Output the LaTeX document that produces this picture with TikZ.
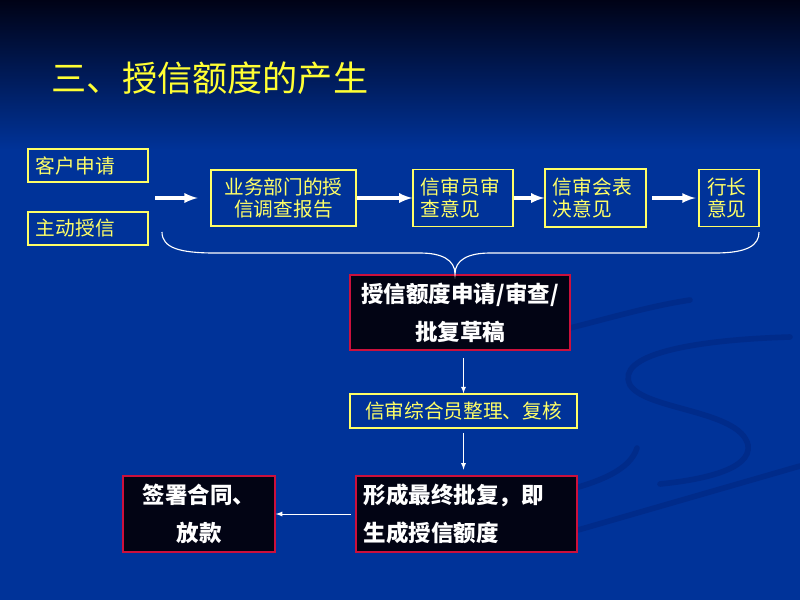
\documentclass[tikz,border=0pt]{standalone}
\usepackage{fontspec}
\usepackage{xcolor}
\usepackage{tikz}
\usetikzlibrary{arrows}
\usetikzlibrary{calc}
\setmainfont{Noto Sans CJK SC}
\definecolor{bg}{RGB}{0,51,153}
\definecolor{bgtop}{RGB}{0,2,22}
\definecolor{sw}{RGB}{0,43,138}
\definecolor{ylw}{RGB}{255,255,102}
\definecolor{ttl}{RGB}{255,255,51}
\definecolor{rd}{RGB}{204,16,60}
\definecolor{blk}{RGB}{2,4,20}
\tikzstyle{ybox} = [rectangle, draw=ylw, line width=0.9pt, text=ylw, inner xsep=0.2cm, inner ysep=0pt, font=\fontsize{14}{15.6}\selectfont]
\tikzstyle{kbox} = [rectangle, draw=rd, line width=1.1pt, fill=blk, text=white, inner xsep=0.2cm, inner ysep=0pt, font=\fontsize{16}{27}\selectfont\bfseries]
\tikzstyle{bigarr} = [draw=white, line width=2.2pt, -latex]
\tikzstyle{arr} = [draw=white, line width=0.6pt, -latex]
\tikzstyle{swoosh} = [draw=sw, line width=0.14cm, line cap=round]

\begin{document}
\begin{tikzpicture}[x=0.025cm,y=-0.025cm]
	% background
		\useasboundingbox (0,0) rectangle (800,600);
		\fill[bg] (0,0) rectangle (800,600);
		\shade[top color=bgtop, bottom color=bg] (0,0) rectangle (800,150);
		\draw[swoosh] (562,330) .. controls (610,318) and (650,306) .. (690,300);
		\draw[swoosh] (790,337) .. controls (690,340) and (615,355) .. (630,385) .. controls (645,410) and (740,410) .. (748,445) .. controls (752,470) and (700,480) .. (660,484);
		\draw[swoosh] (637,448) .. controls (630,470) and (600,482) .. (560,492);
		\draw[swoosh] (578,530) -- (800,466);
	% title
		\node[text=ttl, font=\fontsize{25}{30}\selectfont] (t) at (210,78) {三、授信额度的产生};
	% boxes
		\node[ybox, text width=2.6cm, minimum height=0.825cm, align=left] (a1) at (88,165.5) {客户申请};
		\node[ybox, text width=2.6cm, minimum height=0.825cm, align=left] (a2) at (88,228.5) {主动授信};
		\node[ybox, text width=3.225cm, minimum height=1.4cm, align=center] (a3) at (283.5,198) {业务部门的授\\信调查报告};
		\node[ybox, text width=2.1cm, minimum height=1.425cm, align=left] (a4) at (463,198) {信审员审\\查意见};
		\node[ybox, text width=2.125cm, minimum height=1.45cm, align=left] (a5) at (595.5,198) {信审会表\\决意见};
		\node[ybox, text width=1.1cm, minimum height=1.425cm, align=left] (a6) at (729,198) {行长\\意见};
		\node[kbox, text width=5.1cm, minimum height=1.875cm, align=center] (a7) at (460,312.5) {授信额度申请/审查/\\批复草稿};
		\node[ybox, text width=5.275cm, minimum height=0.85cm, align=center] (a8) at (463.5,411) {信审综合员整理、复核};
		\node[kbox, text width=5.125cm, minimum height=1.9cm, align=left] (a9) at (466.5,514) {形成最终批复，即\\生成授信额度};
		\node[kbox, text width=3.4cm, minimum height=1.9cm, align=center] (a10) at (199,514) {签署合同、\\放款};
		\coordinate (c1) at (155,198);
	% arrows
		\draw[bigarr, shorten >=9pt] (c1) -- (c1 -| a3.west);
		\foreach \from/\to in {a3/a4,a4/a5}
		\draw[bigarr] (\from.east) -- (\to.west);
		\draw[bigarr, shorten <=4pt, shorten >=2pt] (a5.east) -- (a6.west);
		\draw[arr, shorten <=5pt] (a7.south -| a8.north) -- (a8.north);
		\draw[arr, shorten <=3pt, shorten >=4pt] (a8.south) -- (a9.north -| a8.south);
		\draw[arr, shorten <=3pt] (a9.west) -- (a10.east);
	% brace
		\draw[white, line width=0.8pt] (162,232) .. controls (162,248) and (180,253) .. (215,253) -- (420,253) .. controls (442,253) and (455,260) .. (455,274) .. controls (455,260) and (468,253) .. (490,253) -- (715,253) .. controls (748,253) and (759,245) .. (759,232);
	\end{tikzpicture}
\end{document}
